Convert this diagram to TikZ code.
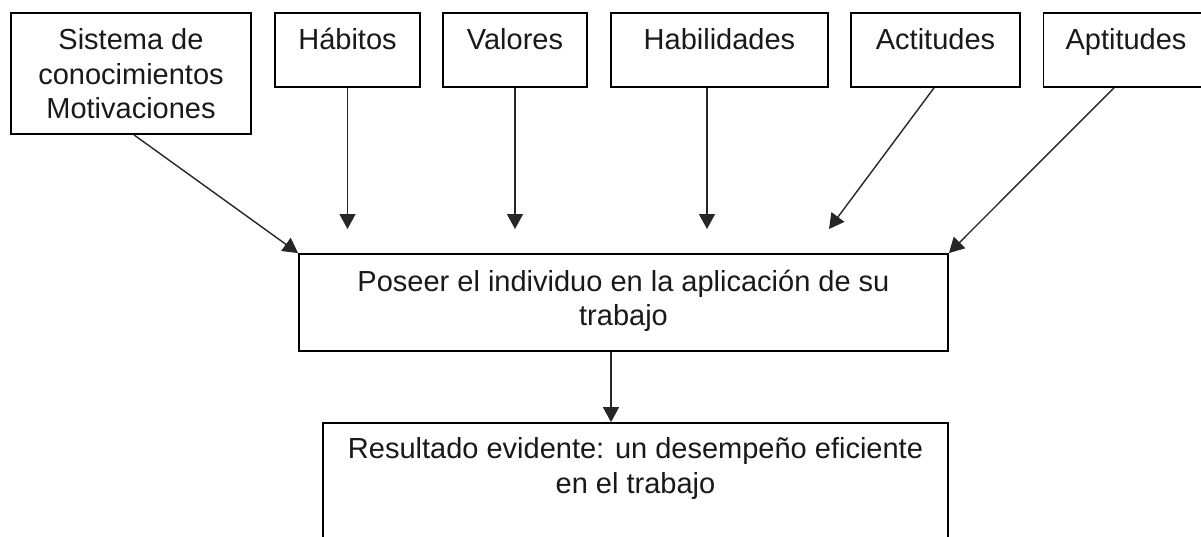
\documentclass[tikz,border=0pt]{standalone}
\usepackage{fontspec}
\setmainfont{Liberation Sans}
\usetikzlibrary{arrows.meta}
\begin{document}
\begin{tikzpicture}[x=1pt,y=-1pt,
  box/.style={draw=black, line width=1.8pt, rectangle, inner sep=0pt},
  txt/.style={inner sep=0pt, align=center, anchor=north,
    font=\fontsize{29}{34.5}\selectfont, text=black!90},
  arr/.style={line width=1.4pt, draw=black!85, -{Triangle[length=15pt,width=16pt]}}]
\useasboundingbox (0,0) rectangle (1201,536);
\clip (0,0) rectangle (1201,536);
\fill[white] (0,0) rectangle (1201,536);

% top boxes
\node[box, minimum width=240pt, minimum height=121pt] (sis) at (131,73.5) {};
\node[box, minimum width=145pt, minimum height=74pt] (hab) at (347.5,50) {};
\node[box, minimum width=144pt, minimum height=74pt] (val) at (515,50) {};
\node[box, minimum width=217pt, minimum height=74pt] (hbl) at (719.5,50) {};
\node[box, minimum width=169pt, minimum height=74pt] (act) at (935.5,50) {};
\node[box, minimum width=165pt, minimum height=74pt] (apt) at (1126,50) {};
% middle and bottom boxes
\node[box, minimum width=649pt, minimum height=97pt] (mid) at (623.5,302.5) {};
\node[box, minimum width=625pt, minimum height=137pt] (res) at (635.5,491.5) {};

% texts
\node[txt] (sist) at ([yshift=-13.5pt]sis.north) {\strut Sistema de\\conocimientos\\Motivaciones};
\node[txt] (habt) at ([yshift=-13.5pt]hab.north) {\strut Hábitos};
\node[txt] (valt) at ([yshift=-13.5pt]val.north) {\strut Valores};
\node[txt] (hblt) at ([yshift=-13.5pt]hbl.north) {\strut Habilidades};
\node[txt] (actt) at ([yshift=-13.5pt]act.north) {\strut Actitudes};
\node[txt] (aptt) at ([yshift=-13.5pt]apt.north) {\strut Aptitudes};
\node[txt] (midt) at ([yshift=-14pt]mid.north) {\strut Poseer el individuo en la aplicación de su\\trabajo};
\node[txt] (rest) at ([yshift=-12.5pt]res.north) {\strut Resultado evidente: un desempeño eficiente\\en el trabajo};

% free arrow ends
\coordinate (habE) at (347.5,229);
\coordinate (valE) at (515,229);
\coordinate (hblE) at (707,229);
\coordinate (actE) at (829,229);

% connectors
\draw[arr] ([xshift=3pt]sis.south) -- (mid.north west);
\draw[arr] (hab.south) -- (habE);
\draw[arr] (val.south) -- (valE);
\draw[arr] ([xshift=-12.5pt]hbl.south) -- (hblE);
\draw[arr] ([xshift=-1.5pt]act.south) -- (actE);
\draw[arr] ([xshift=-12pt]apt.south) -- (mid.north east);
\draw[arr] ([xshift=-12.5pt]mid.south) -- ([xshift=-12.5pt]mid.south |- res.north);
\end{tikzpicture}
\end{document}
